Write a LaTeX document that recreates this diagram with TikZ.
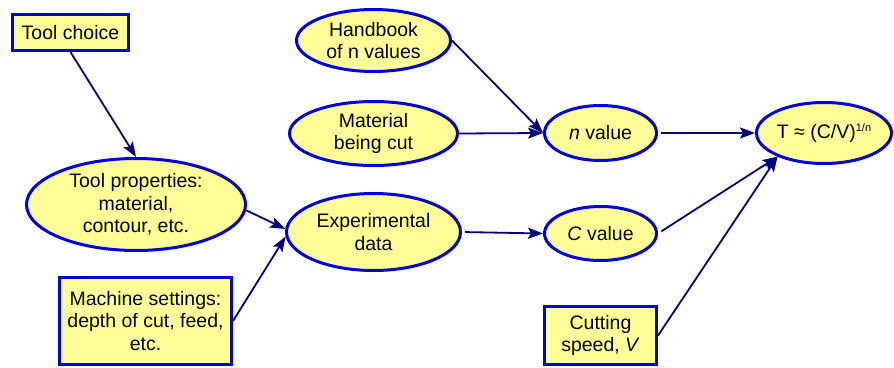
\documentclass[tikz,border=0pt]{standalone}
\usepackage{fontspec}
\setmainfont{Liberation Sans}
\usetikzlibrary{shapes.geometric,arrows.meta}
\definecolor{fillY}{RGB}{255,255,153}
\definecolor{edgeB}{RGB}{0,0,220}
\definecolor{arrN}{RGB}{0,0,128}
\begin{document}
\begin{tikzpicture}[x=1pt,y=-1pt,
  lbl/.style={font=\fontsize{19.5}{22.5}\selectfont, align=center, inner sep=0pt, text=black},
  oval/.style={ellipse, draw=edgeB, fill=fillY, line width=3pt, inner sep=0pt},
  sbox/.style={rectangle, draw=edgeB, fill=fillY, line width=3pt, inner sep=0pt},
  conn/.style={draw=arrN, line width=1.8pt, -{Stealth[length=15pt,width=11pt,inset=3pt]}},
]
\useasboundingbox (0,0) rectangle (894,367);

% shapes
\node[sbox, minimum width=116pt, minimum height=36pt] (tc) at (70.5,32.5) {};
\node[oval, minimum width=219pt, minimum height=92pt] (tp) at (136,204.5) {};
\node[sbox, minimum width=172pt, minimum height=87pt] (ms) at (145.5,321) {};
\node[oval, minimum width=154pt, minimum height=62pt] (hb) at (373.5,40.5) {};
\node[oval, minimum width=168pt, minimum height=64pt] (mat) at (373.5,133.5) {};
\node[oval, minimum width=174pt, minimum height=77pt] (exp) at (373.5,232) {};
\node[oval, minimum width=112pt, minimum height=55pt] (nv) at (600.5,133) {};
\node[oval, minimum width=112pt, minimum height=54pt] (cv) at (600.5,233.5) {};
\node[oval, minimum width=135pt, minimum height=61pt] (T) at (824,133) {};
\node[sbox, minimum width=112pt, minimum height=58pt] (cs) at (600.5,335.5) {};

% labels
\node[lbl] (tcL) at (tc) {Tool choice};
\node[lbl] (tpL) at (tp) {Tool properties:\\material,\\contour, etc.};
\node[lbl] (msL) at (ms) {Machine settings:\\depth of cut, feed,\\etc.};
\node[lbl] (hbL) at (hb) {Handbook\\of n values};
\node[lbl] (matL) at (mat) {Material\\being cut};
\node[lbl] (expL) at (exp) {Experimental\\data};
\node[lbl] (nvL) at (nv) {\textit{n} value};
\node[lbl] (cvL) at (cv) {\textit{C} value};
\node[lbl] (TL) at (T) {T ≈ (C/V)\raisebox{7pt}{\fontsize{11}{11}\selectfont 1/n}};
\node[lbl] (csL) at (cs) {Cutting\\speed, \textit{V}};

% connectors
\draw[conn] (tc.south) -- (tp.north);
\draw[conn] (hb.east) -- (nv.west);
\draw[conn] (mat.east) -- (nv.west);
\draw[conn, shorten <=3pt] (nv.east) -- (T.west);
\draw[conn] (tp.-3) -- (exp.178);
\draw[conn] (ms.east) -- (exp.183);
\draw[conn, shorten <=3pt] (exp.east) -- (cv.west);
\draw[conn, shorten <=4pt] (cv.east) -- (T.207);
\draw[conn] (cs.east) -- (T.207);
\end{tikzpicture}
\end{document}
